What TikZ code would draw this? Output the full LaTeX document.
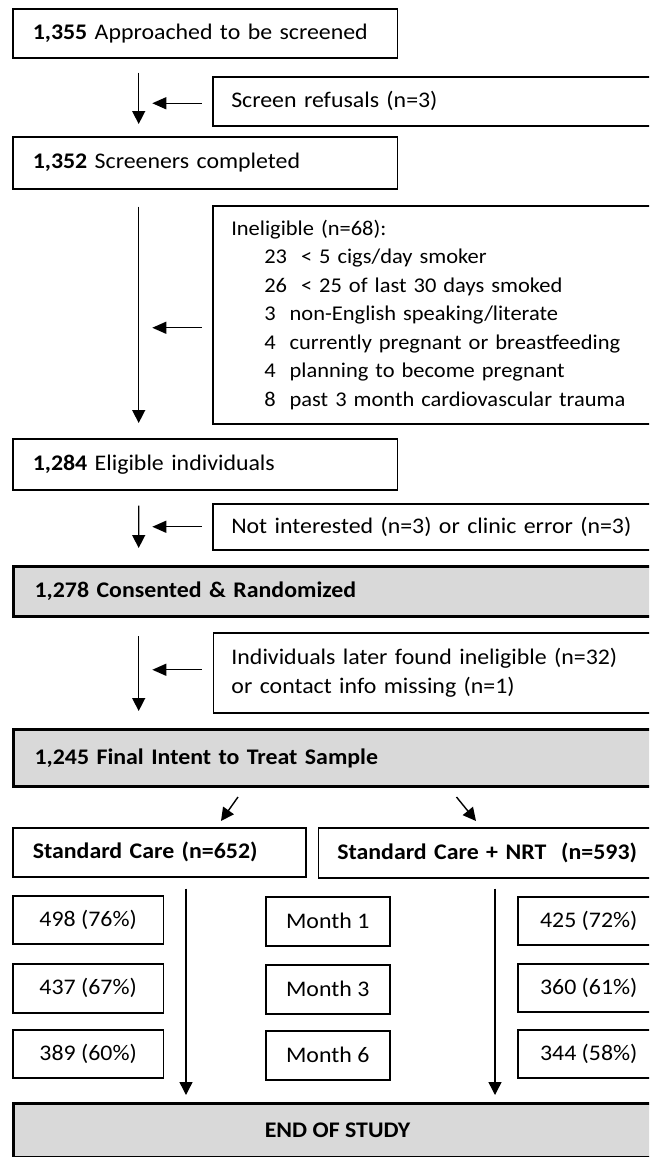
\documentclass[tikz,border=0pt]{standalone}
\usepackage{fontspec}
\setmainfont{Carlito}[FakeStretch=1.07]
\usetikzlibrary{arrows.meta,calc}
\definecolor{boxgray}{RGB}{217,217,217}
\begin{document}
\begin{tikzpicture}[x=1pt,y=-1pt,
  font=\fontsize{22.3}{28.3}\selectfont,
  wbox/.style={draw=black, line width=1.5pt, fill=white, anchor=north west,
    inner ysep=0pt, align=left},
  gbox/.style={draw=black, line width=3pt, fill=boxgray, anchor=north west,
    inner ysep=0pt, align=left, font=\fontsize{22.3}{28.3}\selectfont\bfseries},
  cbox/.style={draw=black, line width=1.5pt, fill=white, anchor=north west,
    inner sep=0pt, align=center},
  varr/.style={line width=1.4pt, -{Triangle[length=13pt,width=13pt]}},
  sarr/.style={line width=1.4pt, -{Triangle[length=14pt,width=12pt]}},
]
\useasboundingbox (0,0) rectangle (649,1157);
\clip (0,0) rectangle (649,1157);

% main column
\node[wbox, minimum width=384.5pt, minimum height=49pt, inner xsep=20pt, text width=344.5pt]
  (b1) at (12,8) {\textbf{1,355} Approached to be screened};
\node[wbox, minimum width=500pt, minimum height=49pt, inner xsep=18.5pt, text width=463pt]
  (ref) at (212,76) {Screen refusals (n=3)};
\node[wbox, minimum width=384.5pt, minimum height=52pt, inner xsep=20pt, text width=344.5pt]
  (b2) at (12,136) {\textbf{1,352} Screeners completed};
\node[wbox, minimum width=500pt, minimum height=218pt, inner xsep=18.5pt, text width=463pt,
  font=\fontsize{21}{28.5}\selectfont]
  (inel) at (212,205) {Ineligible (n=68):\\
  \hspace*{33pt}23~~< 5 cigs/day smoker\\
  \hspace*{33pt}26~~< 25 of last 30 days smoked\\
  \hspace*{33pt}3~~non-English speaking/literate\\
  \hspace*{33pt}4~~currently pregnant or breastfeeding\\
  \hspace*{33pt}4~~planning to become pregnant\\
  \hspace*{33pt}8~~past 3 month cardiovascular trauma};
\node[wbox, minimum width=384.5pt, minimum height=51pt, inner xsep=20pt, text width=344.5pt]
  (b3) at (12,438) {\textbf{1,284} Eligible individuals};
\node[wbox, minimum width=500pt, minimum height=46pt, inner xsep=18.5pt, text width=463pt]
  (notint) at (212,503) {Not interested (n=3) or clinic error (n=3)};
\node[gbox, minimum width=660pt, minimum height=50pt, inner xsep=21.4pt, text width=617pt]
  (cons) at (11.6,565) {1,278 Consented \& Randomized};
\node[wbox, minimum width=500pt, minimum height=80pt, inner xsep=18pt, text width=464pt]
  (later) at (212.7,632) {Individuals later found ineligible (n=32)\\or contact info missing (n=1)};
\node[gbox, minimum width=660pt, minimum height=57pt, inner xsep=21.4pt, text width=617pt]
  (itt) at (11.6,728) {1,245 Final Intent to Treat Sample};

% arms
\node[wbox, minimum width=293pt, minimum height=49pt, inner xsep=20pt, text width=253pt,
  font=\fontsize{22.3}{28.3}\selectfont\bfseries]
  (sc) at (12,827) {Standard Care (n=652)};
\node[wbox, minimum width=400pt, minimum height=50pt, inner xsep=19pt, text width=362pt,
  font=\fontsize{22.3}{28.3}\selectfont\bfseries]
  (nrt) at (317.5,827) {Standard Care + NRT~~(n=593)};

% follow-up rows
\node[cbox, minimum width=150.7pt, minimum height=48pt] (l1) at (12,895) {498 (76\%)};
\node[cbox, minimum width=150.7pt, minimum height=49pt] (l3) at (12,963) {437 (67\%)};
\node[cbox, minimum width=150.7pt, minimum height=48pt] (l6) at (12,1029) {389 (60\%)};
\node[cbox, minimum width=124pt, minimum height=49pt] (m1) at (265,896) {Month 1};
\node[cbox, minimum width=124pt, minimum height=49pt] (m3) at (265,964) {Month 3};
\node[cbox, minimum width=124pt, minimum height=49pt] (m6) at (265,1030) {Month 6};
\node[cbox, minimum width=142pt, minimum height=48pt] (r1) at (517,896) {425 (72\%)};
\node[cbox, minimum width=142pt, minimum height=48pt] (r3) at (517,963) {360 (61\%)};
\node[cbox, minimum width=142pt, minimum height=48pt] (r6) at (517,1029) {344 (58\%)};

\node[gbox, minimum width=649pt, minimum height=54pt, inner sep=0pt, align=center]
  (end) at (11.6,1102) {END OF STUDY};

% vertical arrows
\draw[varr] ($(b1.south west)+(126.7,14)$) -- ($(b2.north west)+(126.7,-12)$);
\draw[varr] ($(b2.south west)+(126.7,17)$) -- ($(b3.north west)+(126.7,-15)$);
\draw[varr] ($(b3.south west)+(126.7,15)$) -- ($(cons.north west)+(127.1,-17)$);
\draw[varr] ($(cons.south west)+(127.1,18)$) -- ($(itt.north west)+(127.1,-17)$);

% side arrows
\draw[sarr] ($(ref.west)+(-10.4,2)$) -- ($(ref.west)+(-59.7,2)$);
\draw[sarr] ($(inel.west)+(-10.4,13)$) -- ($(inel.west)+(-59.7,13)$);
\draw[sarr] ($(notint.west)+(-10.4,0)$) -- ($(notint.west)+(-59.7,0)$);
\draw[sarr] ($(later.west)+(-11.1,-3)$) -- ($(later.west)+(-60.4,-3)$);

% split arrows
\draw[varr] ($(itt.south west)+(226.4,9)$) -- ($(sc.north west)+(209,-6)$);
\draw[varr] ($(itt.south west)+(444.9,9)$) -- ($(nrt.north west)+(158.5,-6)$);

% long arrows
\draw[varr] ($(sc.south west)+(174,11)$) -- ($(end.north west)+(174.4,-7)$);
\draw[varr] ($(nrt.south west)+(177.5,10)$) -- ($(end.north west)+(483.4,-7)$);
\end{tikzpicture}
\end{document}
